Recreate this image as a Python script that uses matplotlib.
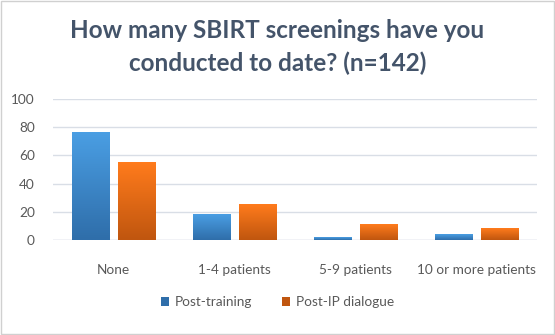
import numpy as np
import matplotlib
matplotlib.use("Agg")
import matplotlib.pyplot as plt
from matplotlib.colors import LinearSegmentedColormap
from matplotlib.patches import Patch, Rectangle

categories = ["None", "1-4 patients", "5-9 patients", "10 or more patients"]
post_training = [76, 18, 2, 4]
post_ip_dialogue = [55, 25, 11, 8]
series_names = ["Post-training", "Post-IP dialogue"]
yticks = [0, 20, 40, 60, 80, 100]

plt.rcParams['font.family'] = ['Lato', 'DejaVu Sans']

text_col = "#44546A"
tick_col = "#595959"
grid_col = "#D9DEE6"

# (top colour, bottom colour) per series
grads = [("#4A9EE3", "#2F6EAA"), ("#FF7B1C", "#C0560F")]

fig = plt.figure(figsize=(5.55, 3.35), dpi=100)
ax = fig.add_axes([53 / 555, 1 - 240 / 335, (537 - 53) / 555, (240 - 99) / 335])

x = np.arange(len(categories))
w = 0.31
offs = [-0.19, 0.19]

for vals, off, (top, bot) in zip([post_training, post_ip_dialogue], offs, grads):
    cmap = LinearSegmentedColormap.from_list("g", [bot, top])
    bars = ax.bar(x + off, vals, w, color=bot, zorder=2)
    for b in bars:
        x0, y0 = b.get_x(), b.get_y()
        bw, bh = b.get_width(), b.get_height()
        grad = np.linspace(0, 1, 64).reshape(-1, 1)
        ax.imshow(grad, cmap=cmap, origin="lower", aspect="auto",
                  extent=[x0, x0 + bw, y0, y0 + bh], zorder=3)

ax.set_xlim(-0.5, len(categories) - 0.5)
ax.set_ylim(0, 100)
ax.set_yticks(yticks)
ax.set_xticks(x)
ax.set_xticklabels(categories)
ax.tick_params(axis="both", length=0, labelsize=9.8, colors=tick_col)
ax.tick_params(axis="x", pad=17)
ax.tick_params(axis="y", pad=13)
ax.grid(axis="y", color=grid_col, linewidth=1, zorder=0)
for s in ax.spines.values():
    s.set_visible(False)
ax.axhline(0, color=grid_col, linewidth=1, zorder=1)

fig.text(0.5, 1 - 30 / 335, "How many SBIRT screenings have you", ha="center",
         va="center", fontsize=17.5, fontweight="bold", color=text_col)
fig.text(0.5, 1 - 63 / 335, "conducted to date? (n=142)", ha="center",
         va="center", fontsize=17.5, fontweight="bold", color=text_col)

handles = [Patch(facecolor=grads[0][1]), Patch(facecolor=grads[1][1])]
fig.legend(handles, series_names, loc="center", bbox_to_anchor=(0.5, 1 - 302 / 335),
           ncol=2, frameon=False, fontsize=9.8, handlelength=0.6, handleheight=0.6,
           columnspacing=2.2, handletextpad=0.4, labelcolor=tick_col)

# thin outer frame
fig.patches.append(Rectangle((0.001, 0.002), 0.997, 0.996, transform=fig.transFigure,
                             fill=False, edgecolor="#D0D0D0", linewidth=1))

fig.savefig("out.png", dpi=100)
